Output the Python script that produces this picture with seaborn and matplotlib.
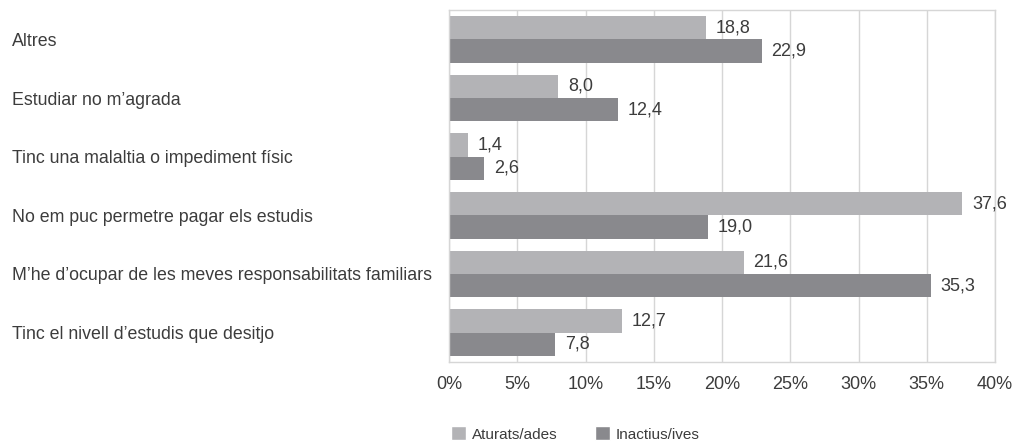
import pandas as pd
import seaborn as sns
import matplotlib.pyplot as plt
from matplotlib.patches import Patch

categories = [
    "Altres",
    "Estudiar no m\u2019agrada",
    "Tinc una malaltia o impediment f\u00edsic",
    "No em puc permetre pagar els estudis",
    "M\u2019he d\u2019ocupar de les meves responsabilitats familiars",
    "Tinc el nivell d\u2019estudis que desitjo",
]
aturats = [18.8, 8.0, 1.4, 37.6, 21.6, 12.7]
inactius = [22.9, 12.4, 2.6, 19.0, 35.3, 7.8]
series_names = ["Aturats/ades", "Inactius/ives"]
x_ticks = [0, 5, 10, 15, 20, 25, 30, 35, 40]

df = pd.DataFrame({
    "motiu": categories * 2,
    "valor": aturats + inactius,
    "grup": [series_names[0]] * len(categories) + [series_names[1]] * len(categories),
})

light = "#b3b3b6"
dark = "#89898d"
txt = "#3c3c3c"
grid = "#d6d6d6"

sns.set_style("white")
plt.rcParams["font.family"] = ["Liberation Sans", "DejaVu Sans"]

fig = plt.figure(figsize=(10.22, 4.42), dpi=100)
ax = fig.add_axes([449 / 1022, 1 - 362 / 442, (995 - 449) / 1022, (362 - 10) / 442])

sns.barplot(data=df, x="valor", y="motiu", hue="grup", order=categories,
            palette=[light, dark], orient="h", width=0.8, ax=ax,
            legend=False, saturation=1, edgecolor="none")

# value labels with decimal comma
for cont in ax.containers:
    ax.bar_label(cont, labels=[f"{v:.1f}".replace(".", ",") for v in cont.datavalues],
                 padding=7, fontsize=13, color=txt)

ax.set_xlim(0, 40)
ax.set_ylim(len(categories) - 0.5, -0.5)
ax.set_xticks(x_ticks, [f"{t}%" for t in x_ticks])
ax.xaxis.grid(True, color=grid, linewidth=1)
ax.set_axisbelow(True)
ax.set_xlabel("")
ax.set_ylabel("")
ax.tick_params(axis="x", length=0, pad=10, labelsize=13, colors=txt)

ax.set_yticks(range(len(categories)), categories)
ax.set_yticks([i - 0.5 for i in range(len(categories) + 1)], minor=True)
ax.tick_params(axis="y", which="major", length=0, pad=315, labelsize=12.8, labelcolor=txt)
ax.tick_params(axis="y", which="minor", length=6, width=1, color=grid)
for lab in ax.get_yticklabels():
    lab.set_horizontalalignment("left")

for s in ax.spines.values():
    s.set_visible(True)
    s.set_color(grid)
    s.set_linewidth(1)

handles = [Patch(facecolor=light, label=series_names[0]),
           Patch(facecolor=dark, label=series_names[1])]
fig.legend(handles=handles, loc="center left", bbox_to_anchor=(451 / 1022, 1 - 434 / 442),
           ncol=2, frameon=False, fontsize=11, handlelength=1.0, handleheight=1.0,
           handletextpad=0.4, columnspacing=2.4, labelcolor=txt, borderaxespad=0,
           borderpad=0)

fig.savefig("out.png", dpi=100)
